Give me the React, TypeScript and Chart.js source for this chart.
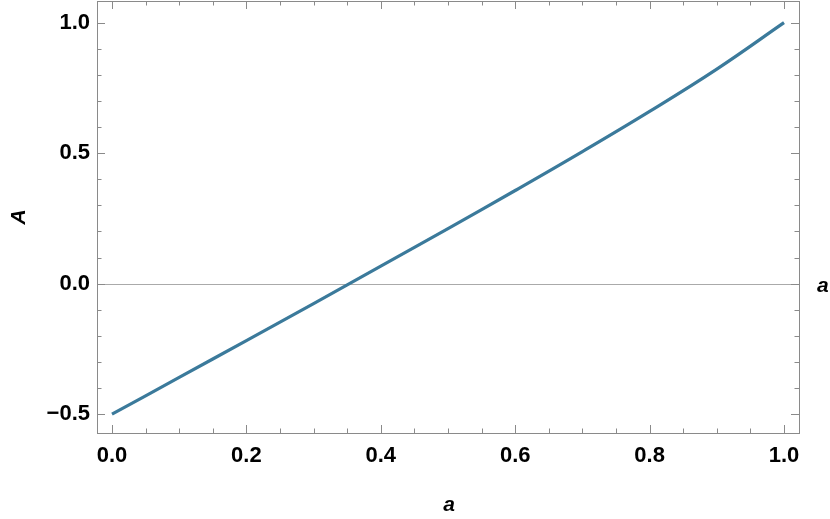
import { useEffect, useRef } from "react";
import { Chart, registerables } from "chart.js";

Chart.register(...registerables);

// ---- data ----
const aValues = [0, 0.1, 0.2, 0.3, 0.4, 0.5, 0.6, 0.7, 0.8, 0.9, 1.0];
const AValues = [-0.5, -0.359, -0.218, -0.076, 0.067, 0.211, 0.357, 0.506, 0.66, 0.822, 1.0];

const xMajorTicks = [0, 0.2, 0.4, 0.6, 0.8, 1.0];
const xMinorTicks = [0.05, 0.1, 0.15, 0.25, 0.3, 0.35, 0.45, 0.5, 0.55, 0.65, 0.7, 0.75, 0.85, 0.9, 0.95];
const yMajorTicks = [-0.5, 0, 0.5, 1.0];
const yMinorTicks = [-0.4, -0.3, -0.2, -0.1, 0.1, 0.2, 0.3, 0.4, 0.6, 0.7, 0.8, 0.9];

const xLabel = "a";
const yLabel = "A";

const FONT = '"Liberation Sans", Arial, Helvetica, sans-serif';
const LINE_COLOR = "#3b7a9b";
const FRAME_COLOR = "#8a8a8a";
const ZERO_COLOR = "#aaaaaa";

const fmt = (v: number) => {
  const s = Math.abs(v).toFixed(1);
  return v < -1e-9 ? "\u2212" + s : s;
};

const framePlugin = {
  id: "framePlugin",
  beforeDatasetsDraw(chart: any) {
    const { ctx, chartArea, scales } = chart;
    const y0 = scales.y.getPixelForValue(0);
    ctx.save();
    ctx.strokeStyle = ZERO_COLOR;
    ctx.lineWidth = 1;
    ctx.beginPath();
    ctx.moveTo(chartArea.left, Math.round(y0) + 0.5);
    ctx.lineTo(chartArea.right, Math.round(y0) + 0.5);
    ctx.stroke();
    ctx.restore();
  },
  afterDraw(chart: any) {
    const { ctx, chartArea, scales } = chart;
    const { left, right, top, bottom } = chartArea;
    ctx.save();
    ctx.strokeStyle = FRAME_COLOR;
    ctx.lineWidth = 1;
    ctx.strokeRect(Math.round(left) + 0.5, Math.round(top) + 0.5, Math.round(right - left), Math.round(bottom - top));

    const drawX = (vals: number[], len: number) => {
      vals.forEach((v) => {
        const px = Math.round(scales.x.getPixelForValue(v)) + 0.5;
        ctx.beginPath();
        ctx.moveTo(px, bottom);
        ctx.lineTo(px, bottom - len);
        ctx.moveTo(px, top);
        ctx.lineTo(px, top + len);
        ctx.stroke();
      });
    };
    const drawY = (vals: number[], len: number) => {
      vals.forEach((v) => {
        const py = Math.round(scales.y.getPixelForValue(v)) + 0.5;
        ctx.beginPath();
        ctx.moveTo(left, py);
        ctx.lineTo(left + len, py);
        ctx.moveTo(right, py);
        ctx.lineTo(right - len, py);
        ctx.stroke();
      });
    };
    drawX(xMajorTicks, 8);
    drawX(xMinorTicks, 4.5);
    drawY(yMajorTicks, 8);
    drawY(yMinorTicks, 4.5);

    // axis labels
    ctx.fillStyle = "#000";
    ctx.font = `italic bold 21px ${FONT}`;
    ctx.textAlign = "center";
    ctx.textBaseline = "alphabetic";
    ctx.fillText(xLabel, 449, 511);
    ctx.textAlign = "left";
    const y0 = scales.y.getPixelForValue(0);
    ctx.fillText(xLabel, 817, y0 + 8);
    ctx.save();
    ctx.translate(25, 217);
    ctx.rotate(-Math.PI / 2);
    ctx.textAlign = "center";
    ctx.fillText(yLabel, 0, 0);
    ctx.restore();
    ctx.restore();
  },
};

export default function App() {
  const ref = useRef<HTMLCanvasElement | null>(null);

  useEffect(() => {
    document.body.style.margin = "0";
    if (!ref.current) return;
    const chart = new Chart(ref.current, {
      type: "line",
      data: {
        datasets: [
          {
            data: aValues.map((a, i) => ({ x: a, y: AValues[i] })),
            borderColor: LINE_COLOR,
            borderWidth: 3.2,
            pointRadius: 0,
            tension: 0.4,
            fill: false,
          },
        ],
      },
      options: {
        responsive: false,
        animation: false,
        layout: { padding: { left: 0, top: 1, right: 31, bottom: 0 } },
        plugins: { legend: { display: false }, tooltip: { enabled: false } },
        scales: {
          x: {
            type: "linear",
            min: -0.0223,
            max: 1.0223,
            border: { display: false },
            grid: { display: false, drawTicks: false },
            afterBuildTicks: (s: any) => {
              s.ticks = xMajorTicks.map((v) => ({ value: v }));
            },
            afterFit: (s: any) => {
              s.height = 86;
              s.paddingLeft = 0;
              s.paddingRight = 0;
            },
            ticks: {
              autoSkip: false,
              maxRotation: 0,
              padding: 10,
              color: "#000",
              font: { family: FONT, size: 22, weight: "bold" },
              callback: (v: any) => fmt(Number(v)),
            },
          },
          y: {
            type: "linear",
            min: -0.572,
            max: 1.083,
            border: { display: false },
            grid: { display: false, drawTicks: false },
            afterBuildTicks: (s: any) => {
              s.ticks = yMajorTicks.map((v) => ({ value: v }));
            },
            afterFit: (s: any) => {
              s.width = 97;
              s.paddingTop = 0;
              s.paddingBottom = 0;
            },
            ticks: {
              autoSkip: false,
              padding: 7,
              color: "#000",
              font: { family: FONT, size: 22, weight: "bold" },
              callback: (v: any) => fmt(Number(v)),
            },
          },
        },
      },
      plugins: [framePlugin],
    } as any);
    return () => chart.destroy();
  }, []);

  return (
    <div style={{ position: "absolute", left: 0, top: 0, width: 830, height: 519, background: "#fff" }}>
      <canvas ref={ref} width={830} height={519} style={{ width: 830, height: 519 }} />
    </div>
  );
}
